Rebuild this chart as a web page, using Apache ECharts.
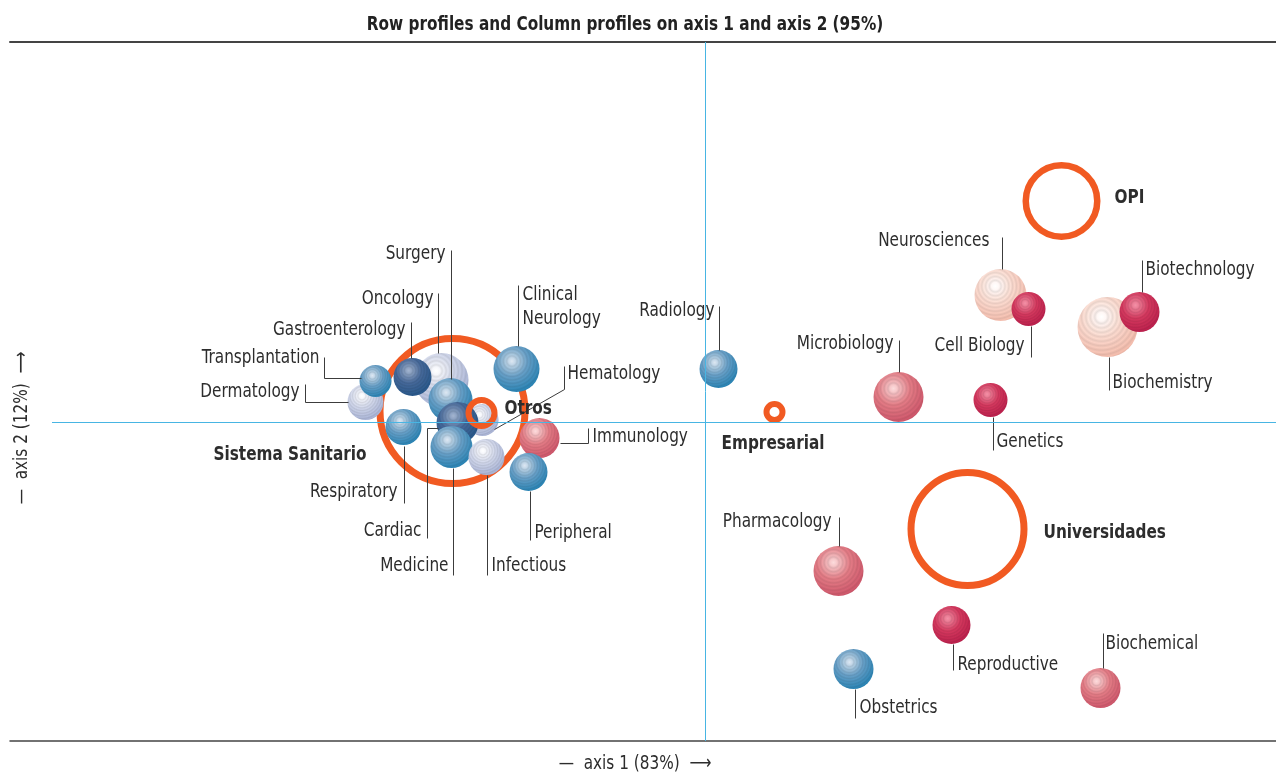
<!DOCTYPE html>
<html>
<head>
<meta charset="utf-8">
<script src="https://cdn.jsdelivr.net/npm/echarts@6/dist/echarts.min.js"></script>
<style>
  html, body { margin: 0; padding: 0; background: #fff; }
  #chart { width: 1276px; height: 774px; }
</style>
</head>
<body>
<div id="chart"></div>
<script>
// column profiles (fields)
const fieldNames = ['Surgery', 'Oncology', 'Gastroenterology', 'Transplantation', 'Dermatology',
  'Clinical\nNeurology', 'Hematology', 'Immunology', 'Peripheral', 'Infectious', 'Medicine',
  'Cardiac', 'Respiratory', 'Radiology', 'Microbiology', 'Neurosciences', 'Cell Biology',
  'Biotechnology', 'Biochemistry', 'Genetics', 'Pharmacology', 'Reproductive', 'Obstetrics',
  'Biochemical']
const fieldAxis1 = [-0.255, -0.264, -0.293, -0.330, -0.340, -0.189, -0.223, -0.166, -0.177, -0.219,
  -0.254, -0.248, -0.302, 0.013, 0.193, 0.295, 0.323, 0.434, 0.402, 0.285, 0.133, 0.246, 0.148, 0.395]
const fieldAxis2 = [0.022, 0.042, 0.045, 0.041, 0.020, 0.053, 0.002, -0.016, -0.050, -0.035,
  -0.025, -0.001, -0.005, 0.053, 0.025, 0.127, 0.113, 0.110, 0.095, 0.022, -0.149, -0.203, -0.247, -0.266]
const fieldMass = [2.2, 2.7, 1.9, 1.6, 1.8, 2.3, 1.6, 2.0, 1.9, 1.8, 2.1, 2.1, 1.8, 1.9, 2.5, 2.6,
  1.7, 2.0, 3.0, 1.7, 2.5, 1.9, 2.0, 2.0]
const fieldGroup = ['mid', 'light', 'dark', 'mid', 'light', 'mid', 'light', 'salmon', 'mid', 'light',
  'mid', 'dark', 'mid', 'mid', 'salmon', 'pale', 'crimson', 'crimson', 'pale', 'crimson', 'salmon',
  'crimson', 'mid', 'salmon']

// row profiles (sectors)
const sectorNames = ['Sistema Sanitario', 'Otros', 'Empresarial', 'OPI', 'Universidades']
const sectorAxis1 = [-0.253, -0.224, 0.069, 0.356, 0.262]
const sectorAxis2 = [0.011, 0.009, 0.010, 0.221, -0.107]
const sectorMass = [7.6, 1.6, 1.1, 3.9, 6.0]

// stacking order of the spheres (back to front)
const fieldOrder = [4, 3, 1, 2, 0, 12, 6, 11, 10, 9, 5, 7, 8, 13, 14, 15, 16, 18, 17, 19, 20, 21, 22, 23]

// leader lines and labels, px relative to the mark centre
const fieldLayout = [
  { line: [[0, -150], [0, -21]], text: [-5, -146], align: 'right' },
  { line: [[-4, -87], [-4, -27]], text: [-8, -81], align: 'right' },
  { line: [[-2, -55], [-2, -19]], text: [-7, -47], align: 'right' },
  { line: [[-52, -24], [-52, -3], [-15, -3]], text: [-56, -23], align: 'right' },
  { line: [[-61, -18], [-61, 0], [-18, 0]], text: [-66, -10], align: 'right' },
  { line: [[1, -84], [1, -23]], text: [6, -62], align: 'left' },
  { line: [[81, -54], [81, -31], [11, 9]], text: [85, -46], align: 'left' },
  { line: [[20, 5], [48, 5], [48, -10]], text: [53, -1], align: 'left' },
  { line: [[1, 19], [1, 68]], text: [6, 61], align: 'left' },
  { line: [[0, 18], [0, 118]], text: [5, 109], align: 'left' },
  { line: [[1, 21], [1, 128]], text: [-3, 119], align: 'right' },
  { line: [[-20, 5], [-31, 5], [-31, 115]], text: [-36, 108], align: 'right' },
  { line: [[0, 19], [0, 76]], text: [-6, 65], align: 'right' },
  { line: [[0, -63], [0, -19]], text: [-4, -58], align: 'right' },
  { line: [[0, -57], [0, -25]], text: [-5, -53], align: 'right' },
  { line: [[1, -58], [1, -26]], text: [-11, -54], align: 'right' },
  { line: [[2, 17], [2, 48]], text: [-4, 37], align: 'right' },
  { line: [[2, -52], [2, -20]], text: [6, -42], align: 'left' },
  { line: [[1, 30], [1, 63]], text: [5, 56], align: 'left' },
  { line: [[2, 17], [2, 50]], text: [6, 42], align: 'left' },
  { line: [[0, -54], [0, -25]], text: [-7, -49], align: 'right' },
  { line: [[1, 19], [1, 45]], text: [6, 40], align: 'left' },
  { line: [[1, 20], [1, 49]], text: [6, 39], align: 'left' },
  { line: [[2, -55], [2, -20]], text: [5, -44], align: 'left' }
]
const sectorLayout = [
  { text: [-86, 44], align: 'right' },
  { text: [23, -4], align: 'left' },
  { text: [-53, 32], align: 'left' },
  { text: [53, -3], align: 'left' },
  { text: [76, 4], align: 'left' }
]
const ringWidth = [7, 6, 6, 6.5, 7]
const ringOnTop = [false, true, false, false, false]

const X_MIN = -0.6955
const X_MAX = 0.5705
const Y_MIN = -0.319
const Y_MAX = 0.380
const H_LINE_START = -0.6535

const FONT = "'DejaVu Sans Condensed', 'Liberation Sans Narrow', sans-serif"
const NARROW = 0.85
const AXIS_BLUE = '#48b5e3'
const ORANGE = '#f15a22'

const palette = {
  mid: ['#dde7f1', '#69a1c9', '#1f80b3'],
  dark: ['#a3b4cf', '#46699a', '#24568a'],
  light: ['#ffffff', '#d2d8ec', '#a3afd4'],
  salmon: ['#fcdcdc', '#e57d87', '#cd5167'],
  pale: ['#ffffff', '#fddcd1', '#f5b9a8'],
  crimson: ['#f291a6', '#d6395f', '#ba1c4a']
}

function hexToRgb(h) {
  return [parseInt(h.slice(1, 3), 16), parseInt(h.slice(3, 5), 16), parseInt(h.slice(5, 7), 16)]
}

function mix(a, b, t) {
  const A = hexToRgb(a)
  const B = hexToRgb(b)
  return A.map((v, k) => Math.round(v + (B[k] - v) * t))
}

function sphereColor(group) {
  const p = palette[group]
  const stops = []
  const n = 20
  for (let i = 0; i <= n; i++) {
    const t = i / n
    let c = t < 0.45 ? mix(p[0], p[1], t / 0.45) : mix(p[1], p[2], (t - 0.45) / 0.55)
    // faint concentric ripples
    if (i % 2 === 1 && i > 2) c = c.map(v => Math.round(v * 0.92))
    stops.push({ offset: t, color: 'rgb(' + c.join(',') + ')' })
  }
  return new echarts.graphic.RadialGradient(0.4, 0.33, 0.74, stops)
}

const sphereData = fieldOrder.map(i => ({
  value: [fieldAxis1[i], fieldAxis2[i], fieldMass[i]],
  itemStyle: { color: sphereColor(fieldGroup[i]) }
}))

function ringData(top) {
  return sectorNames.map((n, i) => i).filter(i => ringOnTop[i] === top).map(i => ({
    value: [sectorAxis1[i], sectorAxis2[i], sectorMass[i]],
    symbolSize: sectorMass[i] * 20 - ringWidth[i],
    itemStyle: { borderWidth: ringWidth[i] }
  }))
}

function labelRenderer(names, xs, ys, layout, font) {
  return function (params, api) {
    const i = params.dataIndex
    const c = api.coord([xs[i], ys[i]])
    const L = layout[i]
    const children = []
    if (L.line) {
      children.push({
        type: 'polyline',
        shape: { points: L.line.map(p => [Math.round(c[0] + p[0]) + 0.5, Math.round(c[1] + p[1]) + 0.5]) },
        style: { stroke: '#3c3c3c', lineWidth: 1, fill: null }
      })
    }
    children.push({
      type: 'text',
      x: c[0] + L.text[0],
      y: c[1] + L.text[1],
      scaleX: NARROW,
      style: {
        text: names[i],
        x: 0,
        y: 0,
        align: L.align,
        verticalAlign: 'middle',
        fill: '#2d2d2d',
        font: font,
        lineHeight: 24
      }
    })
    return { type: 'group', children }
  }
}

const chart = echarts.init(document.getElementById('chart'))

const option = {
  backgroundColor: '#fff',
  animation: false,
  grid: { left: 10, right: 0, top: 42, bottom: 33 },
  xAxis: [{
    type: 'value', min: X_MIN, max: X_MAX, position: 'bottom',
    axisLine: { onZero: false, lineStyle: { color: '#444', width: 1.5 } },
    axisTick: { show: false }, axisLabel: { show: false }, splitLine: { show: false }
  }, {
    type: 'value', min: X_MIN, max: X_MAX, position: 'top',
    axisLine: { onZero: false, lineStyle: { color: '#444', width: 2 } },
    axisTick: { show: false }, axisLabel: { show: false }, splitLine: { show: false }
  }],
  yAxis: {
    type: 'value', min: Y_MIN, max: Y_MAX,
    axisLine: { show: false },
    axisTick: { show: false }, axisLabel: { show: false }, splitLine: { show: false }
  },
  graphic: [{
    type: 'text', x: 625, y: 25, scaleX: NARROW,
    style: {
      text: 'Row profiles and Column profiles on axis 1 and axis 2 (95%)',
      font: 'bold 20px ' + FONT, fill: '#222', align: 'center', verticalAlign: 'middle'
    }
  }, {
    type: 'text', x: 635, y: 764, scaleX: NARROW,
    style: { text: '—  axis 1 (83%)  ⟶', font: '20px ' + FONT, fill: '#2d2d2d', align: 'center', verticalAlign: 'middle' }
  }, {
    type: 'text', x: 22, y: 428, rotation: Math.PI / 2, scaleX: NARROW,
    style: { text: '—  axis 2 (12%)  ⟶', font: '20px ' + FONT, fill: '#2d2d2d', align: 'center', verticalAlign: 'middle' }
  }],
  series: [{
    name: 'rings back',
    type: 'scatter',
    z: 1,
    symbol: 'circle',
    data: ringData(false),
    itemStyle: { color: 'rgba(0,0,0,0)', borderColor: ORANGE, opacity: 1 },
    markLine: {
      silent: true,
      symbol: 'none',
      label: { show: false },
      lineStyle: { color: AXIS_BLUE, width: 1, type: 'solid', opacity: 1 },
      data: [
        [{ coord: [H_LINE_START, 0] }, { coord: [X_MAX, 0] }],
        [{ coord: [0, Y_MIN] }, { coord: [0, Y_MAX] }]
      ]
    }
  }, {
    name: 'fields',
    type: 'scatter',
    z: 2,
    symbol: 'circle',
    symbolSize: v => v[2] * 20,
    itemStyle: { opacity: 1 },
    data: sphereData
  }, {
    name: 'rings front',
    type: 'scatter',
    z: 3,
    symbol: 'circle',
    data: ringData(true),
    itemStyle: { color: 'rgba(0,0,0,0)', borderColor: ORANGE, opacity: 1 }
  }, {
    name: 'field labels',
    type: 'custom',
    z: 4,
    silent: true,
    data: fieldNames.map((n, i) => [fieldAxis1[i], fieldAxis2[i]]),
    renderItem: labelRenderer(fieldNames, fieldAxis1, fieldAxis2, fieldLayout, '20px ' + FONT)
  }, {
    name: 'sector labels',
    type: 'custom',
    z: 4,
    silent: true,
    data: sectorNames.map((n, i) => [sectorAxis1[i], sectorAxis2[i]]),
    renderItem: labelRenderer(sectorNames, sectorAxis1, sectorAxis2, sectorLayout, 'bold 20px ' + FONT)
  }]
}

chart.setOption(option)
</script>
</body>
</html>
